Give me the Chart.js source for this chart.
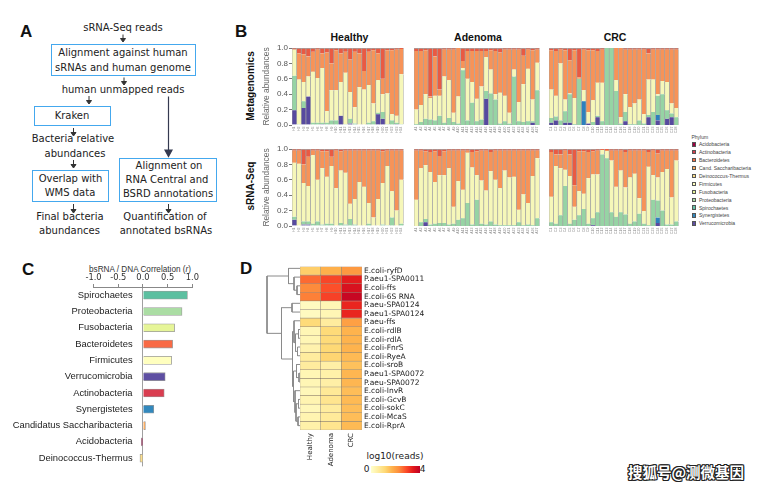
<!DOCTYPE html>
<html lang="en">
<head>
<meta charset="UTF-8">
<title>sRNA-Seq bacteria figure</title>
<script src="https://cdn.jsdelivr.net/npm/chart.js"></script>
<style>
    body { margin: 0; background: #fff; }
    #fig { position: relative; width: 766px; height: 489px; overflow: hidden; background: #fff;
           font-family: 'DejaVu Sans', sans-serif; color: #1d1d1d; }
    .abs { position: absolute; white-space: nowrap; }
    .ctr { transform: translate(-50%, -50%); }
    .rot { transform: translate(-50%, -50%) rotate(-90deg); }
    .plabel { font-family: 'Liberation Sans'; font-weight: bold; font-size: 17px; color: #111; }
    .fbox { position: absolute; border: 1.5px solid #44a8ee; box-sizing: border-box; }
    .ft { font-size: 10px; line-height: 12px; color: #222; }
    .btitle { font-family: 'Liberation Sans'; font-weight: bold; font-size: 10.5px; color: #111; }
    .leg { font-family: 'Liberation Sans'; font-size: 5px; color: #444; }
    .sw { position: absolute; width: 4.5px; height: 4.5px; box-sizing: border-box; border: 0.5px solid #555; }
    canvas { position: absolute; }
</style>
</head>
<body>
<div id="fig">
    <!-- panel letters -->
    <div class="abs plabel" style="left:20px;top:22px">A</div>
    <div class="abs plabel" style="left:235px;top:22px">B</div>
    <div class="abs plabel" style="left:22px;top:260px">C</div>
    <div class="abs plabel" style="left:240px;top:259px">D</div>

    <!-- A: workflow -->
    <div class="fbox" style="left:51px;top:44px;width:145px;height:32px"></div>
    <div class="fbox" style="left:34px;top:106px;width:77px;height:20px"></div>
    <div class="fbox" style="left:32px;top:170px;width:77px;height:32px"></div>
    <div class="fbox" style="left:119px;top:158px;width:98px;height:44px"></div>
    <div class="abs ctr ft" style="left:123px;top:28px">sRNA-Seq reads</div>
    <div class="abs ctr ft" style="left:123px;top:53px">Alignment against human</div>
    <div class="abs ctr ft" style="left:123px;top:67.5px">sRNAs and human genome</div>
    <div class="abs ctr ft" style="left:123px;top:90px">human unmapped reads</div>
    <div class="abs ctr ft" style="left:72px;top:116px">Kraken</div>
    <div class="abs ctr ft" style="left:73px;top:139px">Bacteria relative</div>
    <div class="abs ctr ft" style="left:75px;top:153.5px">abundances</div>
    <div class="abs ctr ft" style="left:70.5px;top:179px">Overlap with</div>
    <div class="abs ctr ft" style="left:70px;top:192.5px">WMS data</div>
    <div class="abs ctr ft" style="left:70px;top:217px">Final bacteria</div>
    <div class="abs ctr ft" style="left:69.5px;top:231px">abundances</div>
    <div class="abs ctr ft" style="left:169px;top:166px">Alignment on</div>
    <div class="abs ctr ft" style="left:167px;top:180px">RNA Central and</div>
    <div class="abs ctr ft" style="left:168px;top:194px">BSRD annotations</div>
    <div class="abs ctr ft" style="left:165px;top:217px">Quantification of</div>
    <div class="abs ctr ft" style="left:166px;top:231px">annotated bsRNAs</div>
    <svg class="abs" style="left:0;top:0" width="240" height="250">
        <g stroke="#333" stroke-width="1" fill="#333">
            <line x1="123" y1="34.5" x2="123" y2="40"/><polygon points="120.5,38.5 125.5,38.5 123,42"/>
            <line x1="124" y1="77.5" x2="124" y2="83"/><polygon points="121.5,81.5 126.5,81.5 124,85"/>
            <line x1="89" y1="96" x2="89" y2="102"/><polygon points="86.5,100.5 91.5,100.5 89,104"/>
            <line x1="73.5" y1="128" x2="73.5" y2="134"/><polygon points="71,132.5 76,132.5 73.5,136"/>
            <line x1="73.5" y1="160" x2="73.5" y2="166"/><polygon points="71,164.5 76,164.5 73.5,168"/>
            <line x1="73.5" y1="204" x2="73.5" y2="211"/><polygon points="71,209.5 76,209.5 73.5,213"/>
            <line x1="168.5" y1="204" x2="168.5" y2="211"/><polygon points="166,209.5 171,209.5 168.5,213"/>
        </g>
        <g stroke="#353a50" stroke-width="1.2" fill="#353a50">
            <line x1="168.5" y1="96.5" x2="168.5" y2="151"/><polygon points="165,150 172,150 168.5,156.5"/>
        </g>
    </svg>

    <!-- B: titles -->
    <div class="abs ctr btitle" style="left:349.5px;top:37px">Healthy</div>
    <div class="abs ctr btitle" style="left:478px;top:37px">Adenoma</div>
    <div class="abs ctr btitle" style="left:615px;top:37px">CRC</div>
    <div class="abs rot btitle" style="left:250px;top:86px;font-size:10px">Metagenomics</div>
    <div class="abs rot btitle" style="left:250px;top:186px;font-size:10px">sRNA-Seq</div>
    <div id="legendB"></div>

    <!-- C: axis title -->
    <div class="abs ctr" style="left:140px;top:269px;font-family:'Liberation Sans';font-size:8.2px;color:#333">bsRNA / DNA Correlation (<i>r</i>)</div>

    <!-- D: colour key -->
    <div class="abs ctr" style="left:395px;top:456px;font-size:9px;color:#222">log10(reads)</div>
    <div class="abs ctr" style="left:366.5px;top:469px;font-size:9px;color:#222">0</div>
    <div class="abs ctr" style="left:422.5px;top:469px;font-size:9px;color:#222">4</div>
    <div id="heatKey" class="abs" style="left:370.5px;top:466px;width:49px;height:7px"></div>

    <!-- watermark -->
    <div class="abs" style="left:628px;top:463px;font-family:'Noto Sans CJK SC';font-weight:bold;font-size:14.5px;line-height:18px;color:#fff;
        text-shadow:1px 0 0 #222,-1px 0 0 #222,0 1px 0 #222,0 -1px 0 #222,1px 1px 0 #222,-1px -1px 0 #222,1px -1px 0 #222,-1px 1px 0 #222">搜狐号@测微基因</div>
</div>

<script>
    // ---------- phylum palette (legend + panel C) ----------
    const phyla = ['Acidobacteria', 'Actinobacteria', 'Bacteroidetes', 'Cand. Saccharibacteria', 'Deinococcus-Thermus',
        'Firmicutes', 'Fusobacteria', 'Proteobacteria', 'Spirochaetes', 'Synergistetes', 'Verrucomicrobia'];
    const phylaColors = ['#9E0142', '#D53E4F', '#F46D43', '#FDAE61', '#FEE08B',
        '#FFFFBF', '#E6F598', '#ABDDA4', '#66C2A5', '#3288BD', '#5E4FA2'];

    // ---------- panel B: stacked relative abundances ----------
    // each row is one sample, columns follow bPhyla (bottom -> top)
    const bPhyla = ['Verrucomicrobia', 'Synergistetes', 'Proteobacteria', 'Firmicutes', 'Bacteroidetes', 'Actinobacteria'];
    const bColors = ['#574A9F', '#2D80BD', '#96D4A4', '#F6F7B9', '#F79358', '#E95A43'];

    const healthyIds = ['H1','H2','H3','H4','H5','H6','H7','H8','H9','H10','H11','H12','H13','H14','H15','H16',
        'H17','H18','H19','H20','H21','H22','H23','H24'];
    const adenomaIds = ['A1','A2','A3','A4','A5','A6','A7','A8','A9','A10','A11','A12','A13','A14','A15','A16',
        'A17','A18','A19','A20','A21','A22','A23','A24','A25','A26','A27'];
    const crcIds = ['C1','C2','C3','C4','C5','C6','C7','C8','C9','C10','C11','C12','C13','C14','C15','C16',
        'C17','C18','C19','C20','C21','C22','C23','C24','C25','C26','C27','C28'];

    const metaHealthy = [
        [.19,0,.45,.34,0,.02], [0,0,.01,.58,.34,.07], [.22,0,.09,.25,.36,.08], [.37,0,0,.26,.26,.11],
        [0,0,.03,.66,.26,.05], [0,0,.03,.58,.37,.02], [.01,0,.02,.71,.19,.07], [0,0,.03,.15,.76,.06],
        [0,0,.06,.39,.35,.20], [0,0,.06,.39,.52,.03], [.12,0,0,.44,.37,.07], [0,0,.01,.67,.27,.05],
        [.02,0,.06,.35,.42,.15], [0,0,.02,.21,.72,.05], [0,0,0,.49,.44,.07], [0,0,0,.46,.24,.30],
        [0,0,.03,.49,.43,.05], [0,0,.05,.23,.69,.03], [.14,0,.02,.42,.35,.07], [.08,0,.09,.23,.20,.40],
        [0,0,.01,.40,.56,.03], [0,0,.06,.08,.83,.03], [.01,0,.02,.09,.86,.02], [0,0,.01,.65,.33,.01]
    ];
    const metaAdenoma = [
        [0,0,.01,.19,.76,.04], [0,0,.04,.22,.70,.04], [0,0,.08,.32,.57,.03], [0,0,.07,.28,.02,.63],
        [0,0,.06,.32,.51,.11], [0,0,.12,.26,.08,.54], [0,0,.03,.60,.35,.02], [0,0,.09,.49,.40,.02],
        [0,0,.04,.12,.82,.02], [0,0,.02,.35,.63,0], [0,0,.71,.03,.09,.17], [0,0,.06,.54,.36,.04],
        [0,0,.29,.27,.40,.04], [0,0,.05,.29,.62,.04], [0,0,.07,.43,.46,.04], [.34,0,.10,.44,.08,.04],
        [0,0,.41,.31,.25,.03], [0,0,.33,.07,.56,.04], [0,0,.02,.40,.52,.06], [0,0,.05,.33,.60,.02],
        [0,0,.02,.14,.82,.02], [0,0,.63,.09,.26,.02], [0,0,.05,.25,.68,.02], [0,0,.04,.49,.37,.10],
        [0,0,.05,.68,.25,.02], [.03,0,.02,.28,.64,.03], [0,0,.45,.36,.17,.02]
    ];
    const metaCRC = [
        [.03,0,.06,.37,.51,.03], [.06,0,.05,.27,.58,.04], [0,0,.06,.74,.18,.02], [.03,0,.15,.15,.64,.03],
        [.03,0,.37,.01,.43,.16], [0,0,.01,.34,.62,.03], [0,0,.60,0,.02,.38], [0,.31,0,.14,.53,.02],
        [.02,0,0,.15,.80,.03], [0,0,.04,.28,.65,.03], [.10,0,.02,.43,.41,.04], [0,0,.05,.50,.43,.02],
        [0,0,1,0,0,0], [0,0,1,0,0,0], [0,0,.44,.14,.42,0], [0,0,.02,.08,.90,0],
        [.05,0,.12,.23,.58,.02], [0,0,.01,.22,.75,.02], [0,0,.01,.27,.70,.02], [0,0,.06,.27,.65,.02],
        [0,0,.02,.12,.84,.02], [.10,0,.03,.46,.34,.07], [0,0,.17,.42,.39,.02], [.06,.07,.25,.02,.58,.02],
        [0,0,.40,.17,.41,.02], [.08,0,.11,.37,.42,.02], [.10,0,.05,.13,.70,.02], [0,0,.10,.12,.76,.02]
    ];
    const srnaHealthy = [
        [.08,0,.04,.70,.16,.02], [0,0,0,.81,.17,.02], [.02,0,.04,.50,.24,.20], [.02,0,.04,.46,.38,.10],
        [0,0,.03,.89,.06,.02], [0,0,.06,.54,.38,.02], [0,0,.02,.73,.22,.03], [0,0,.03,.61,.33,.03],
        [0,0,.03,.75,.12,.10], [0,0,0,.49,.49,.02], [0,0,.04,.68,.25,.03], [0,0,.02,.67,.29,.02],
        [0,0,.09,.20,.69,.02], [0,0,.02,.33,.63,.02], [0,0,0,.57,.41,.02], [0,0,0,.51,.47,.02],
        [0,0,.03,.27,.68,.02], [0,0,0,.11,.87,.02], [0,0,0,.35,.63,.02], [0,0,.02,.54,.41,.03],
        [0,0,.01,.77,.20,.02], [0,0,.11,.34,.53,.02], [0,0,0,.20,.78,.02], [0,0,.03,.57,.38,.02]
    ];
    const srnaAdenoma = [
        [0,0,0,.34,.64,.02], [0,0,.05,.70,.23,.02], [.05,0,.04,.70,.18,.03], [0,0,.02,.68,.26,.04],
        [0,0,.03,.54,.40,.03], [0,0,.04,.62,.25,.09], [0,0,.04,.62,.31,.03], [0,0,.02,.73,.23,.02],
        [0,0,.03,.22,.73,.02], [0,0,.08,.50,.40,.02], [0,0,.10,.37,.51,.02], [0,0,.30,.65,.03,.02],
        [0,0,.02,.74,.20,.04], [0,0,.34,.32,.31,.03], [0,0,.03,.56,.39,.02], [0,0,.02,.44,.52,.02],
        [0,0,.06,.65,.25,.04], [0,0,.02,.58,.38,.02], [0,0,.01,.48,.49,.02], [0,0,.01,.71,.26,.02],
        [0,0,.01,.62,.35,.02], [0,0,.01,.63,.34,.02], [0,0,.05,.16,.77,.02], [0,0,.01,.40,.57,.02],
        [0,0,.02,.28,.68,.02], [0,0,.01,.64,.33,.02], [0,0,.10,.78,.10,.02]
    ];
    const srnaCRC = [
        [0,0,.05,.33,.58,.04], [0,0,.03,.75,.15,.07], [0,0,.14,.61,.18,.07], [0,0,.52,.21,.25,.02],
        [0,0,.03,.62,.28,.07], [0,0,.08,.17,.28,.47], [0,0,.14,.31,.52,.03], [0,0,.22,.20,.55,.03],
        [0,0,.03,.59,.34,.04], [.01,0,.09,.57,.30,.03], [0,0,.18,.49,.31,.02], [0,0,.93,.06,0,.01],
        [0,0,.88,.09,.02,.01], [0,0,.18,.67,.13,.02], [0,0,.12,.39,.47,.02], [0,0,.18,.54,.26,.02],
        [0,0,.15,.35,.46,.04], [0,0,.03,.60,.35,.02], [0,0,.06,.62,.30,.02], [0,0,.16,.20,.62,.02],
        [0,0,.03,.16,.79,.02], [0,0,.01,.76,.19,.04], [0,0,.34,.32,.32,.02], [.04,.07,.22,.30,.31,.06],
        [0,0,.20,.50,.28,.02], [0,0,.02,.72,.24,.02], [0,0,.02,.35,.61,.02], [0,0,.06,.79,.13,.02]
    ];

    // ---------- panel C: bsRNA / DNA correlation ----------
    const corrPhyla = ['Spirochaetes', 'Proteobacteria', 'Fusobacteria', 'Bacteroidetes', 'Firmicutes', 'Verrucomicrobia',
        'Actinobacteria', 'Synergistetes', 'Candidatus Saccharibacteria', 'Acidobacteria', 'Deinococcus-Thermus'];
    const corrValues = [0.90, 0.79, 0.64, 0.60, 0.58, 0.45, 0.43, 0.22, 0.05, -0.03, -0.06];
    const corrColors = ['#5CBFA0', '#ABDDA4', '#E6F598', '#F96A45', '#FFFFBF', '#5E4FA2',
        '#D93D50', '#3288BD', '#FDAE61', '#9E0142', '#FEE08B'];

    // ---------- panel D: heatmap of log10(reads) ----------
    const heatRows = ['E.coli-ryfD', 'P.aeu1-SPA0011', 'E.coli-ffs', 'E.coli-6S RNA', 'P.aeu-SPA0124', 'P.aeu1-SPA0124',
        'P.aeu-ffs', 'E.coli-rdlB', 'E.coli-rdlA', 'E.coli-FnrS', 'E.coli-RyeA', 'E.coli-sroB', 'P.aeu1-SPA0072',
        'P.aeu-SPA0072', 'E.coli-InvR', 'E.coli-GcvB', 'E.coli-sokC', 'E.coli-McaS', 'E.coli-RprA'];
    const heatCols = ['Healthy', 'Adenoma', 'CRC'];
    const heatHealthy = [1.3, 2.6, 2.3, 2.4, 0.15, 0.15, 1.1, 0.3, 0.3, 0.4, 0.6, 0.6, 0.3, 0.3, 0.25, 0.35, 0.25, 0.35, 0.45];
    const heatAdenoma = [1.75, 2.95, 2.85, 3.0, 0.3, 0.3, 0.6, 1.1, 1.1, 1.15, 1.2, 0.5, 0.45, 0.5, 0.7, 0.8, 0.6, 0.65, 0.8];
    const heatCRC = [2.1, 3.4, 3.6, 3.85, 3.3, 3.3, 2.0, 1.7, 1.7, 1.7, 1.6, 1.5, 1.65, 1.65, 1.55, 1.6, 1.55, 1.55, 1.6];
    const heatPalette = ['#ffffcc', '#ffeda0', '#fed976', '#feb24c', '#fd8d3c', '#fc4e2a', '#e31a1c', '#bd0026'];
    // row clustering, hclust style: negative = leaf (1-based), positive = earlier merge step
    const dendroMerge = [[-3,-4,0.6], [-2,1,1.2], [-1,2,2.3], [-5,-6,1.6], [-8,-9,0.3], [-10,-11,0.5], [5,6,0.9],
        [-7,7,1.2], [-13,-14,0.2], [-12,9,0.7], [-16,-17,0.3], [-18,-19,0.4], [11,12,0.8], [-15,13,1.0],
        [10,14,1.3], [8,15,1.5], [4,16,3.7], [3,17,6.6]];

    // ---------- helpers ----------
    Chart.defaults.font.family = 'Liberation Sans';
    Chart.defaults.animation = false;
    Chart.defaults.responsive = false;
    Chart.defaults.devicePixelRatio = 1;
    Chart.defaults.plugins.legend.display = false;
    Chart.defaults.plugins.tooltip.enabled = false;

    const fig = document.getElementById('fig');

    function addCanvas(left, top, w, h) {
        const c = document.createElement('canvas');
        c.width = w; c.height = h;
        c.style.left = left + 'px'; c.style.top = top + 'px';
        c.style.width = w + 'px'; c.style.height = h + 'px';
        fig.appendChild(c);
        return c;
    }

    function hexToRgb(h) {
        return [parseInt(h.substr(1, 2), 16), parseInt(h.substr(3, 2), 16), parseInt(h.substr(5, 2), 16)];
    }
    function heatColor(v) {
        const t = Math.max(0, Math.min(1, v / 4)) * (heatPalette.length - 1);
        const i = Math.min(Math.floor(t), heatPalette.length - 2);
        const f = t - i;
        const a = hexToRgb(heatPalette[i]), b = hexToRgb(heatPalette[i + 1]);
        return 'rgb(' + a.map((c, k) => Math.round(c + (b[k] - c) * f)).join(',') + ')';
    }

    function abundanceChart(plotLeft, plotTop, plotW, labels, rows, withAxis) {
        const axisW = withAxis ? 30 : 0;
        const cv = addCanvas(plotLeft - axisW, plotTop - 8, plotW + axisW, 95);
        return new Chart(cv, {
            type: 'bar',
            data: {
                labels: labels,
                datasets: bPhyla.map((p, k) => ({
                    label: p,
                    data: rows.map(r => r[k]),
                    backgroundColor: bColors[k],
                    borderColor: '#a3a3a3',
                    borderWidth: {left: 0.7, right: 0.7, top: k == bPhyla.length - 1 ? 1 : 0, bottom: 0},
                    borderSkipped: false,
                    barPercentage: 1,
                    categoryPercentage: 1
                }))
            },
            options: {
                layout: {padding: {top: 8, left: 0, right: 0, bottom: 0}},
                scales: {
                    x: {
                        stacked: true,
                        grid: {display: false, drawTicks: false},
                        border: {display: false},
                        ticks: {autoSkip: false, maxRotation: 90, minRotation: 90, padding: 1.5, color: '#888', font: {size: 3.5}},
                        afterFit: s => { s.height = 10; }
                    },
                    y: {
                        stacked: true,
                        display: withAxis,
                        min: 0, max: 1,
                        ticks: {stepSize: 0.2, callback: v => v.toFixed(1), color: '#555', font: {size: 8}, padding: 1},
                        grid: {drawOnChartArea: false, tickLength: 3, tickColor: '#777'},
                        border: {display: false},
                        title: {display: true, text: 'Relative abundances', color: '#666', font: {size: 8.4}, padding: 0},
                        afterFit: s => { s.width = axisW; }
                    }
                }
            }
        });
    }

    // ---------- panel B ----------
    abundanceChart(292, 48, 115, healthyIds, metaHealthy, true);
    abundanceChart(414, 48, 129, adenomaIds, metaAdenoma, false);
    abundanceChart(549, 48, 133, crcIds, metaCRC, false);
    abundanceChart(292, 149, 115, healthyIds, srnaHealthy, true);
    abundanceChart(414, 149, 129, adenomaIds, srnaAdenoma, false);
    abundanceChart(549, 149, 133, crcIds, srnaCRC, false);

    // phylum legend
    let legHtml = '<div class="abs leg" style="left:691.5px;top:134px">Phylum</div>';
    phyla.forEach((p, i) => {
        const y = 144.3 + i * 7.93;
        legHtml += '<div class="sw" style="left:691.5px;top:' + (y - 2.25) + 'px;background:' + phylaColors[i] + '"></div>';
        legHtml += '<div class="abs leg" style="left:699px;top:' + (y - 3.2) + 'px">' + p + '</div>';
    });
    document.getElementById('legendB').innerHTML = legHtml;

    // ---------- panel C ----------
    // category labels sit left of the zero line, so the y axis is anchored a bit left of 0
    // and the zero line itself is the x grid line at value 0
    new Chart(addCanvas(0, 272, 200, 200), {
        type: 'bar',
        data: {
            labels: corrPhyla,
            datasets: [{
                data: corrValues,
                backgroundColor: corrColors,
                borderColor: '#9a9a9a',
                borderWidth: 0.8,
                barThickness: 8
            }]
        },
        options: {
            indexAxis: 'y',
            layout: {padding: {left: 93.5, right: 7, top: 0, bottom: 2.5}},
            scales: {
                x: {
                    position: 'top',
                    min: -1, max: 1,
                    ticks: {stepSize: 0.5, callback: v => v.toFixed(1), color: '#333', font: {size: 8.3, family: 'DejaVu Sans'}, padding: 1, maxRotation: 0},
                    grid: {
                        drawOnChartArea: true, tickLength: 3, tickColor: '#888',
                        color: ctx => (ctx.tick && ctx.tick.value === 0) ? '#a0a0a0' : 'rgba(0,0,0,0)'
                    },
                    border: {color: '#888'},
                    afterFit: s => { s.height = 15; }
                },
                y: {
                    position: {x: -0.21},
                    ticks: {autoSkip: false, color: '#222', font: {size: 9.4}, padding: 0},
                    grid: {display: false, drawTicks: false},
                    border: {display: false}
                }
            }
        }
    });

    // ---------- panel D: heatmap ----------
    const heatByCol = [heatHealthy, heatAdenoma, heatCRC];
    new Chart(addCanvas(300, 260, 135, 220), {
        type: 'bar',
        data: {
            labels: heatRows,
            datasets: heatCols.map((c, j) => ({
                label: c,
                data: heatRows.map(() => 1),
                backgroundColor: heatByCol[j].map(heatColor),
                borderColor: 'rgba(110,90,60,0.55)',
                borderWidth: 0.6,
                borderSkipped: false,
                barPercentage: 1,
                categoryPercentage: 1
            }))
        },
        options: {
            indexAxis: 'y',
            layout: {padding: {top: 4, left: 0, right: 0, bottom: 0}},
            scales: {
                x: {
                    stacked: true, min: 0, max: 3,
                    afterBuildTicks: s => { s.ticks = heatCols.map((c, i) => ({value: i + 0.5})); },
                    ticks: {callback: (v, i) => heatCols[i], autoSkip: false, maxRotation: 90, minRotation: 90, padding: 3,
                        color: '#222', font: {size: 7, family: 'DejaVu Sans'}},
                    grid: {display: false, drawTicks: false},
                    border: {display: false},
                    afterFit: s => { s.height = 50; }
                },
                y: {
                    stacked: true,
                    position: 'right',
                    ticks: {autoSkip: false, padding: 2, color: '#222', font: {size: 7.5, family: 'DejaVu Sans'}},
                    grid: {display: false, drawTicks: false},
                    border: {display: false},
                    afterFit: s => { s.width = 73; }
                }
            }
        }
    });

    // dendrogram: one elbow per merge, drawn on data scales (x = height, y = row position)
    const nodePos = [];
    const dendroSets = dendroMerge.map(([a, b, h]) => {
        const pa = a < 0 ? {y: -a - 0.5, h: 0} : nodePos[a - 1];
        const pb = b < 0 ? {y: -b - 0.5, h: 0} : nodePos[b - 1];
        nodePos.push({y: (pa.y + pb.y) / 2, h: h});
        return {
            data: [{x: pa.h, y: pa.y}, {x: h, y: pa.y}, {x: h, y: pb.y}, {x: pb.h, y: pb.y}],
            showLine: true, borderColor: '#8a8a8a', borderWidth: 1, pointRadius: 0, tension: 0
        };
    });
    new Chart(addCanvas(264, 264, 36, 166), {
        type: 'scatter',
        data: {datasets: dendroSets},
        options: {
            layout: {padding: 0},
            scales: {
                x: {display: false, min: 0, max: 7.2, reverse: true},
                y: {display: false, min: 0, max: heatRows.length, reverse: true}
            }
        }
    });

    // colour key
    document.getElementById('heatKey').style.background = 'linear-gradient(to right,' + heatPalette.join(',') + ')';
</script>
</body>
</html>
